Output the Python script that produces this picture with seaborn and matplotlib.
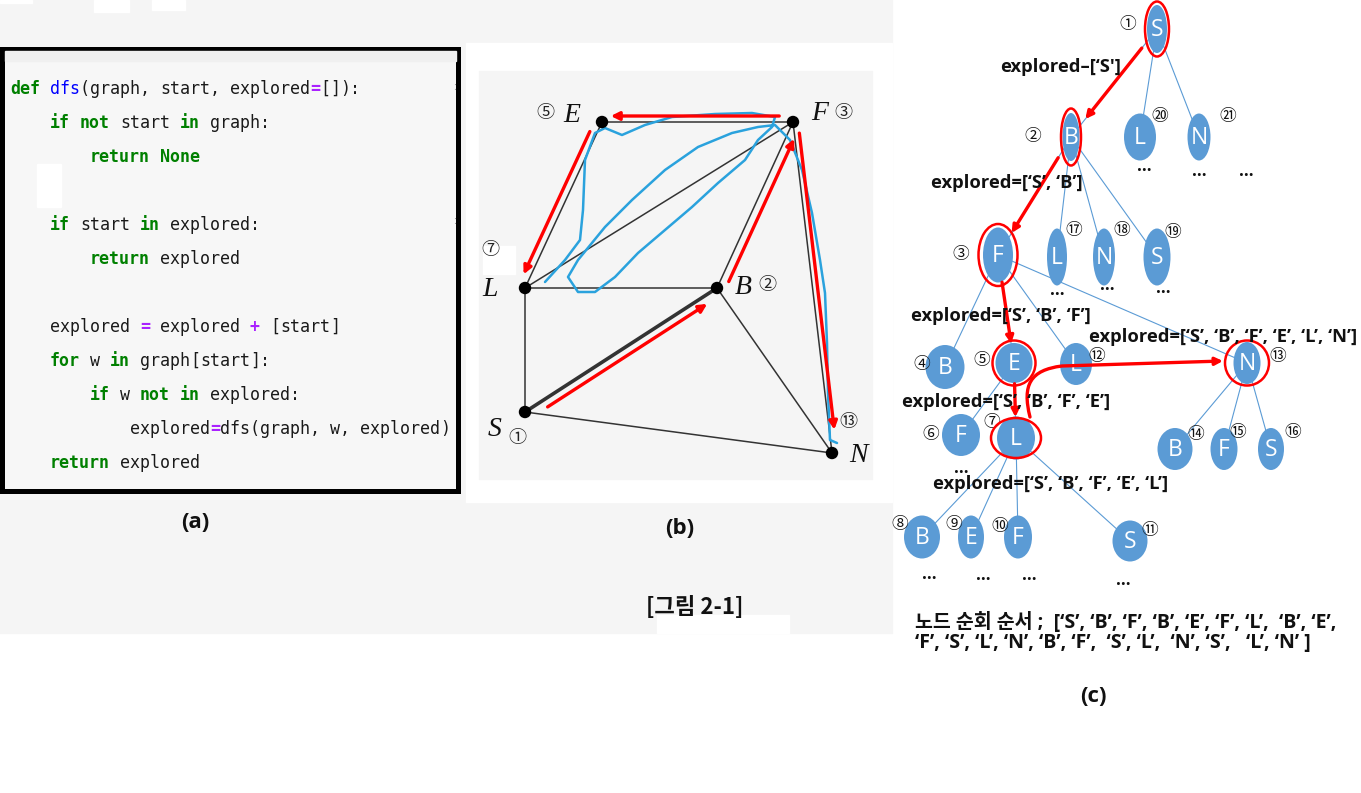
import re
import numpy as np
import matplotlib
matplotlib.use("Agg")
import matplotlib.pyplot as plt
import seaborn as sns
import pandas as pd
from matplotlib.patches import Ellipse, Rectangle, FancyArrowPatch
from matplotlib.path import Path

sns.set_theme(style="white")
plt.rcParams["font.family"] = ["Open Sans", "Noto Sans CJK KR", "DejaVu Sans"]

# ---------------- (a) source code ----------------
code_lines = [
    "def dfs(graph, start, explored=[]):",
    "    if not start in graph:",
    "        return None",
    "",
    "    if start in explored:",
    "        return explored",
    "",
    "    explored = explored + [start]",
    "    for w in graph[start]:",
    "        if w not in explored:",
    "            explored=dfs(graph, w, explored)",
    "    return explored",
]
keywords = {"def", "if", "not", "in", "return", "for", "None"}
operators = {"=", "+"}

# ---------------- (b) graph ----------------
graph_nodes = ["S", "B", "F", "E", "L", "N"]
graph_x = [525, 717, 793, 602, 525, 832]
graph_y = [412, 288, 122, 122, 288, 453]
graph_edges = [("S", "B"), ("S", "L"), ("S", "N"), ("L", "B"), ("L", "E"),
               ("L", "F"), ("E", "F"), ("B", "F"), ("B", "N"), ("F", "N")]
graph_order = ["①", "②", "③", "⑤", "⑦", "⑬"]
graph_lab_x = [495, 743, 820, 572, 490, 858]
graph_lab_y = [430, 287, 113, 115, 290, 455]
graph_num_x = [517, 767, 843, 545, 490, 848]
graph_num_y = [438, 285, 113, 113, 250, 422]
# DFS moves drawn in red (from, to, side offset, start trim, end trim)
dfs_moves = [("S", "B"), ("B", "F"), ("F", "E"), ("E", "L"), ("F", "N")]
dfs_offset = [8, 8, 6, 7, -5]
dfs_trim0 = [19, 8, 11, 11, 9]
dfs_trim1 = [14, 12, 6, 9, 20]
# hand drawn blue trace
trace_x = [545, 565, 580, 583, 585, 595, 605, 622, 645, 672, 715, 752, 775,
           772, 758, 745, 718, 692, 665, 638, 615, 595, 578, 568, 578, 605,
           632, 665, 698, 732, 758, 775, 790, 802, 812, 820, 825, 827, 828,
           830, 837]
trace_y = [282, 260, 240, 210, 160, 133, 128, 135, 125, 117, 114, 113, 117,
           127, 140, 160, 183, 207, 230, 253, 277, 292, 292, 277, 260, 227,
           200, 170, 147, 133, 127, 125, 140, 170, 213, 260, 293, 343, 393,
           440, 443]

# ---------------- (c) search tree ----------------
tree_labels = ["S", "B", "L", "N", "F", "L", "N", "S", "B", "E", "L", "N",
               "F", "L", "B", "E", "F", "S", "B", "F", "S"]
tree_order = ["①", "②", "⑳", "㉑", "③", "⑰", "⑱", "⑲", "④", "⑤", "⑫", "⑬",
              "⑥", "⑦", "⑧", "⑨", "⑩", "⑪", "⑭", "⑮", "⑯"]
tree_parent = [-1, 0, 0, 0, 1, 1, 1, 1, 4, 4, 4, 4, 9, 9, 13, 13, 13, 13,
               11, 11, 11]
tree_x = [1157, 1071, 1140, 1199, 998, 1057, 1104, 1157, 945, 1014, 1076,
          1247, 961, 1016, 922, 971, 1018, 1130, 1175, 1224, 1271]
tree_y = [29, 137, 137, 137, 255, 257, 257, 257, 367, 363, 364, 363, 435,
          438, 537, 537, 537, 541, 449, 449, 449]
tree_w = [20, 17, 32, 23, 30, 20, 22, 27, 39, 37, 32, 27, 38, 38, 36, 26,
          28, 35, 35, 27, 26]
tree_h = [48, 48, 47, 47, 55, 57, 57, 57, 44, 40, 42, 42, 42, 43, 43, 43,
          43, 41, 42, 42, 42]
tree_num_x = [1128, 1033, 1160, 1228, 961, 1074, 1122, 1173, 922, 982, 1097,
              1278, 931, 992, 900, 954, 1000, 1150, 1196, 1238, 1293]
tree_num_y = [25, 137, 117, 117, 254, 230, 230, 233, 364, 361, 357, 356,
              434, 423, 525, 525, 526, 530, 434, 432, 432]
visited = [0, 1, 4, 9, 13, 11]
ring_w = [24, 20, 39, 43, 50, 44]
ring_h = [55, 57, 62, 45, 40, 45]
dots_x = [1144, 1199, 1246, 1057, 1107, 1163, 961, 929, 983, 1029, 1123]
dots_y = [166, 171, 171, 290, 285, 288, 468, 574, 575, 575, 580]

explored_texts = ["explored–[‘S']", "explored=[‘S’, ‘B’]",
                  "explored=[‘S’, ‘B’, ‘F’]",
                  "explored=[‘S’, ‘B’, ‘F’, ‘E’, ‘L’, ‘N’]",
                  "explored=[‘S’, ‘B’, ‘F’, ‘E’]",
                  "explored=[‘S’, ‘B’, ‘F’, ‘E’, ‘L’]"]
explored_x = [1000, 931, 911, 1089, 902, 933]
explored_y = [67, 183, 316, 337, 402, 484]
visit_sequence = ["노드 순회 순서 ;  [‘S’, ‘B’, ‘F’, ‘B’, ‘E’, ‘F’, ‘L’,  ‘B’, ‘E’,",
                  "‘F’, ‘S’, ‘L’, ‘N’, ‘B’, ‘F’,  ‘S’, ‘L’,  ‘N’, ‘S’,   ‘L’, ‘N’ ]"]

fig = plt.figure(figsize=(13.61, 7.93), dpi=100)
ax = fig.add_axes([0, 0, 1, 1])

# backgrounds
ax.add_patch(Rectangle((0, 0), 892, 633, color="#f5f5f5", zorder=0))
for x0, y0, w, h in [(0, 0, 32, 3), (94, 0, 35, 12), (152, 0, 33, 10),
                     (466, 43, 426, 459), (657, 615, 132, 18)]:
    ax.add_patch(Rectangle((x0, y0), w, h, color="white", zorder=0.5))
ax.add_patch(Rectangle((479, 71), 393, 408, color="#f5f5f5", zorder=0.6))
ax.add_patch(Rectangle((483, 246), 32, 28, color="white", zorder=0.7))

# (a) code box
ax.add_patch(Rectangle((2.5, 48.5), 456, 442, facecolor="#f7f7f7",
                       edgecolor="black", lw=3.6, zorder=1))
ax.add_patch(Rectangle((5, 51), 451, 10, color="#f0f0f0", zorder=1.1))
ax.add_patch(Rectangle((37, 164), 24, 43, color="white", zorder=1.1))
ax.text(453, 87, ":", color="#999999", fontsize=8, va="center", zorder=2)
ax.text(453, 222, ":", color="#999999", fontsize=8, va="center", zorder=2)
char_w = 10.0
for row, line in enumerate(code_lines):
    col = 0
    prev = ""
    for tok in re.findall(r"\w+|\s+|[^\w\s]", line):
        if not tok.isspace():
            color, weight = "#1a1a1a", "normal"
            if tok in keywords:
                color, weight = "#008000", "bold"
            elif prev == "def":
                color = "#0000ff"
            elif tok in operators:
                color, weight = "#aa22ff", "bold"
            ax.text(10 + col * char_w, 94 + row * 34, tok, color=color,
                    fontweight=weight, family="DejaVu Sans Mono", fontsize=12,
                    va="baseline", ha="left", zorder=3)
            prev = tok
        col += len(tok)

# (b) graph
pos = {n: np.array([x, y], float) for n, x, y in zip(graph_nodes, graph_x, graph_y)}
for a, b in graph_edges:
    lw = 2.6 if (a, b) == ("S", "B") else 1.1
    ax.plot([pos[a][0], pos[b][0]], [pos[a][1], pos[b][1]], color="#333333",
            lw=lw, zorder=2, solid_capstyle="round")
ax.plot(trace_x, trace_y, color="#2aa2dd", lw=1.8, zorder=3,
        solid_joinstyle="round", solid_capstyle="round")
for (a, b), off, t0, t1 in zip(dfs_moves, dfs_offset, dfs_trim0, dfs_trim1):
    d = pos[b] - pos[a]
    u = d / np.linalg.norm(d)
    nrm = np.array([-u[1], u[0]])
    p0 = pos[a] + u * t0 + nrm * off
    p1 = pos[b] - u * t1 + nrm * off
    ax.add_patch(FancyArrowPatch(p0, p1, arrowstyle="-|>", mutation_scale=12,
                                 color="#ff0000", lw=2.4, zorder=4))
nodes_df = pd.DataFrame({"x": graph_x, "y": graph_y, "node": graph_nodes})
sns.scatterplot(data=nodes_df, x="x", y="y", ax=ax, color="black", s=80,
                edgecolor="none", zorder=5, legend=False)
for n, lx, ly, nx, ny, o in zip(graph_nodes, graph_lab_x, graph_lab_y,
                                graph_num_x, graph_num_y, graph_order):
    ax.text(lx, ly, n, family="Liberation Serif", style="italic", fontsize=20,
            ha="center", va="center", color="#111111", zorder=6)
    ax.text(nx, ny, o, family=["Noto Sans CJK KR", "DejaVu Sans"], fontsize=13,
            ha="center", va="center", color="#222222", zorder=6)

# (c) search tree
for i, p in enumerate(tree_parent):
    if p >= 0:
        ax.plot([tree_x[p], tree_x[i]], [tree_y[p], tree_y[i]],
                color="#5b9bd5", lw=0.8, zorder=2)
for i, lab in enumerate(tree_labels):
    ax.add_patch(Ellipse((tree_x[i], tree_y[i]), tree_w[i], tree_h[i],
                         facecolor="#5b9bd5", edgecolor="none", zorder=3))
    ax.text(tree_x[i], tree_y[i] + 1, lab, color="white", fontsize=16.5,
            ha="center", va="center", zorder=4)
    ax.text(tree_num_x[i], tree_num_y[i], tree_order[i],
            family=["Noto Sans CJK KR", "DejaVu Sans"], fontsize=12,
            ha="center", va="center", color="#111111", zorder=4)
for k, wv, hv in zip(visited, ring_w, ring_h):
    ax.add_patch(Ellipse((tree_x[k], tree_y[k]), wv, hv, facecolor="none",
                         edgecolor="#ff0000", lw=1.8, zorder=5))
for a, b in zip(visited[:4], visited[1:5]):
    p0 = np.array([tree_x[a], tree_y[a]], float)
    p1 = np.array([tree_x[b], tree_y[b]], float)
    u = (p1 - p0) / np.linalg.norm(p1 - p0)
    ax.add_patch(FancyArrowPatch(p0 + u * tree_h[a] * 0.45,
                                 p1 - u * tree_h[b] * 0.42,
                                 arrowstyle="-|>", mutation_scale=11,
                                 color="#ff0000", lw=2.4, zorder=6))
back = Path([(1030, 417), (1022, 385), (1030, 370), (1062, 366), (1223, 361)],
            [Path.MOVETO, Path.CURVE4, Path.CURVE4, Path.CURVE4, Path.LINETO])
ax.add_patch(FancyArrowPatch(path=back, arrowstyle="-|>", mutation_scale=11,
                             color="#ff0000", lw=2.4, zorder=6))
for dx, dy in zip(dots_x, dots_y):
    ax.text(dx, dy, "...", fontsize=12, fontweight="bold", ha="center",
            va="center", color="#111111", zorder=4)
for t, tx, ty in zip(explored_texts, explored_x, explored_y):
    ax.text(tx, ty, t, fontsize=13.2, fontweight="bold", ha="left",
            va="center", color="#111111", zorder=7)
for i, t in enumerate(visit_sequence):
    ax.text(915, 623 + i * 20, t, fontsize=14, fontweight="bold", ha="left",
            va="center", color="#111111", zorder=7)

# panel captions
for t, cx, cy in [("(a)", 195, 523), ("(b)", 680, 528), ("(c)", 1093, 697)]:
    ax.text(cx, cy, t, fontsize=16, fontweight="bold", ha="center",
            va="center", color="#111111")
ax.text(695, 607, "[그림 2-1]", family=["Noto Sans CJK KR", "DejaVu Sans"],
        fontsize=16, fontweight="bold", ha="center", va="center",
        color="#111111")

ax.set_xlim(0, 1361)
ax.set_ylim(793, 0)
ax.set_xlabel("")
ax.set_ylabel("")
ax.axis("off")
fig.savefig("out.png", dpi=100, facecolor="white")
